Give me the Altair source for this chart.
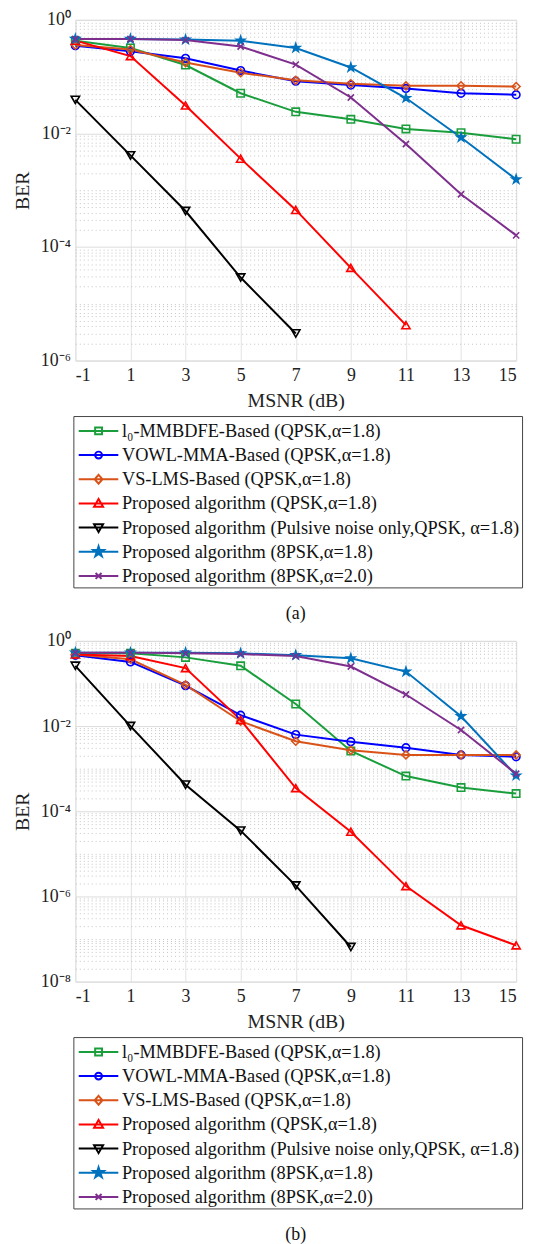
import math
import altair as alt
import pandas as pd

# ---------------- data ----------------
MSNR = [-1, 1, 3, 5, 7, 9, 11, 13, 15]

SERIES = [
    "l\u2080-MMBDFE-Based (QPSK,\u03b1=1.8)",
    "VOWL-MMA-Based (QPSK,\u03b1=1.8)",
    "VS-LMS-Based (QPSK,\u03b1=1.8)",
    "Proposed algorithm (QPSK,\u03b1=1.8)",
    "Proposed algorithm (Pulsive noise only,QPSK, \u03b1=1.8)",
    "Proposed algorithm (8PSK,\u03b1=1.8)",
    "Proposed algorithm (8PSK,\u03b1=2.0)",
]

# panel (a)
A_L0 = [0.43, 0.32, 0.16, 0.051, 0.024, 0.0177, 0.012, 0.0103, 0.0079]
A_VOWL = [0.35, 0.28, 0.21, 0.128, 0.083, 0.071, 0.062, 0.051, 0.048]
A_VSLMS = [0.36, 0.30, 0.177, 0.117, 0.086, 0.075, 0.069, 0.069, 0.067]
A_PROP = [0.43, 0.23, 0.031, 0.0036, 4.5e-4, 4.3e-5, 4.2e-6]
A_PULSIVE = [0.039, 0.0041, 4.3e-4, 2.9e-5, 3.0e-6]
A_8PSK18 = [0.46, 0.46, 0.45, 0.43, 0.32, 0.145, 0.042, 0.0085, 0.00155]
A_8PSK20 = [0.46, 0.46, 0.44, 0.34, 0.163, 0.043, 0.0065, 8.5e-4, 1.6e-4]

# panel (b)
B_L0 = [0.51, 0.51, 0.41, 0.26, 0.033, 0.0026, 6.7e-4, 3.6e-4, 2.6e-4]
B_VOWL = [0.46, 0.32, 0.089, 0.018, 0.0063, 0.0043, 0.0031, 0.0021, 0.0019]
B_VSLMS = [0.48, 0.37, 0.093, 0.013, 0.0044, 0.0027, 0.0021, 0.0021, 0.0021]
B_PROP = [0.48, 0.44, 0.23, 0.014, 3.5e-4, 3.3e-5, 1.75e-6, 2.1e-7, 7.1e-8]
B_PULSIVE = [0.26, 0.01, 4.2e-4, 3.5e-5, 1.8e-6, 6.5e-8]
B_8PSK18 = [0.53, 0.53, 0.53, 0.51, 0.46, 0.39, 0.19, 0.017, 6.9e-4]
B_8PSK20 = [0.53, 0.53, 0.51, 0.49, 0.44, 0.25, 0.055, 0.0081, 7.6e-4]

# ---------------- styles ----------------
COLORS = ["#1a9e3c", "#0000ff", "#d95319", "#ff0000", "#000000", "#0072bd", "#7e2f8e"]
FILLS = ["transparent"] * 5 + ["#0072bd", "transparent"]
SIZES = [56, 81, 100, 144, 144, 160, 100]
FONT = "Liberation Serif"


def star(cx, r):
    pts = []
    for k in range(10):
        ang = math.radians(-90 + 36 * k)
        rr = r if k % 2 == 0 else r * 0.382
        pts.append((cx + rr * math.cos(ang), rr * math.sin(ang)))
    return "M" + "L".join(f"{px:.3f},{py:.3f}" for px, py in pts) + "Z"


PLOT_SHAPES = ["square", "circle", "diamond", "triangle-up", "triangle-down",
               star(0, 1.0), "M-0.7,-0.7L0.7,0.7M-0.7,0.7L0.7,-0.7"]

LINE = "M-0.8,0H2.53"
LEG_SHAPES = [
    LINE + "M0.58,-0.29H1.16V0.29H0.58Z",
    LINE + "M0.58,0A0.29,0.29 0 1,0 1.16,0A0.29,0.29 0 1,0 0.58,0",
    LINE + "M0.87,-0.375L1.2,0L0.87,0.375L0.54,0Z",
    LINE + "M0.87,-0.38L1.25,0.28L0.49,0.28Z",
    LINE + "M0.87,0.38L1.25,-0.28L0.49,-0.28Z",
    LINE + star(0.87, 0.46),
    LINE + "M0.62,-0.25L1.12,0.25M0.62,0.25L1.12,-0.25",
]


def make_df(lists):
    rows = []
    for name, vals in zip(SERIES, lists):
        for x, v in zip(MSNR, vals):
            rows.append({"msnr": x, "ber": v, "series": name})
    return pd.DataFrame(rows)


def panel(lists, low_exp, caption):
    df = make_df(lists)
    minor = [m * 10.0 ** k for k in range(low_exp, 0) for m in range(1, 10)] + [1.0]
    e = "round(log(datum.value)/LN10)"
    major = f"(abs(log(datum.value)/LN10 - {e}) < 1e-6 && {e} % 2 == 0)"
    lab = "'10\u207b' + ({e}==-2 ? '\u00b2' : {e}==-4 ? '\u2074' : {e}==-6 ? '\u2076' : '\u2078')".format(e=e)
    label_expr = f"{major} ? ({e}==0 ? '10\u2070' : {lab}) : ''"

    x = alt.X("msnr:Q",
              scale=alt.Scale(domain=[-1, 15], nice=False, zero=False),
              axis=alt.Axis(values=MSNR, title="MSNR (dB)", labelExpr="'' + datum.value",
                            grid=True, gridColor="#e3e3e3", ticks=False, domain=False,
                            labelFontSize=18, labelPadding=6, titleFontSize=20,
                            titleFontWeight="normal", titlePadding=6, labelFont=FONT,
                            titleFont=FONT, labelColor="#222", titleColor="#222"))
    y = alt.Y("ber:Q",
              scale=alt.Scale(type="log", domain=[10.0 ** low_exp, 1], nice=False),
              axis=alt.Axis(values=minor, title="BER", labelExpr=label_expr,
                            labelOverlap=False, grid=True,
                            gridColor={"condition": {"test": major, "value": "#dcdcdc"}, "value": "#c4c4c4"},
                            gridDash={"condition": {"test": major, "value": []}, "value": [1, 3]},
                            ticks=False, domain=False, labelFontSize=18, labelPadding=5,
                            titleFontSize=20, titleFontWeight="normal", titlePadding=8,
                            labelFont=FONT, titleFont=FONT, labelColor="#222", titleColor="#222"))

    stroke_scale = alt.Scale(domain=SERIES, range=COLORS)
    lines = alt.Chart(df).mark_line(strokeWidth=2).encode(
        x=x, y=y,
        stroke=alt.Stroke("series:N", scale=stroke_scale, legend=None),
        detail="series:N",
    )
    points = alt.Chart(df).mark_point(filled=False, strokeWidth=1.6, opacity=1).encode(
        x=x, y=y,
        stroke=alt.Stroke("series:N", scale=stroke_scale, legend=None),
        fill=alt.Fill("series:N", scale=alt.Scale(domain=SERIES, range=FILLS), legend=None),
        shape=alt.Shape("series:N", scale=alt.Scale(domain=SERIES, range=PLOT_SHAPES), legend=None),
        size=alt.Size("series:N", scale=alt.Scale(domain=SERIES, range=SIZES), legend=None),
    )
    leg = alt.Legend(title=None, orient="none", legendX=-2, legendY=400,
                     padding=2, rowPadding=1.4, symbolSize=576, labelOffset=21,
                     symbolStrokeWidth=2, labelFontSize=18.5, labelFont=FONT,
                     labelColor="#111", labelLimit=1000, strokeColor="#444",
                     fillColor="white", symbolOpacity=1)
    legend_layer = alt.Chart(df).transform_filter("false").mark_point(filled=False, opacity=1).encode(
        x=x, y=y,
        stroke=alt.Stroke("series:N", scale=alt.Scale(domain=SERIES, range=COLORS), legend=leg),
        fill=alt.Fill("series:N", scale=alt.Scale(domain=SERIES, range=FILLS), legend=leg),
        shape=alt.Shape("series:N", scale=alt.Scale(domain=SERIES, range=LEG_SHAPES), legend=leg),
    )
    return alt.layer(lines, points, legend_layer).resolve_scale(
        stroke="independent", fill="independent", shape="independent"
    ).properties(
        width=445, height=344,
        title=alt.TitleParams(caption, orient="bottom", fontSize=18, font=FONT,
                              fontWeight="normal", offset=17, color="#111"),
    )


pa = panel([A_L0, A_VOWL, A_VSLMS, A_PROP, A_PULSIVE, A_8PSK18, A_8PSK20], -6, "(a)")
pb = panel([B_L0, B_VOWL, B_VSLMS, B_PROP, B_PULSIVE, B_8PSK18, B_8PSK20], -8, "(b)")

chart = alt.vconcat(pa, pb, spacing=8).resolve_scale(
    stroke="independent", fill="independent", shape="independent", size="independent",
    x="independent", y="independent"
).properties(padding={"left": 4, "top": -4, "right": 5, "bottom": 0}).configure_view(
    stroke="black", strokeWidth=1
).configure(font=FONT, background="white")

chart.save("out.html", embed_options={"renderer": "svg", "actions": False})
